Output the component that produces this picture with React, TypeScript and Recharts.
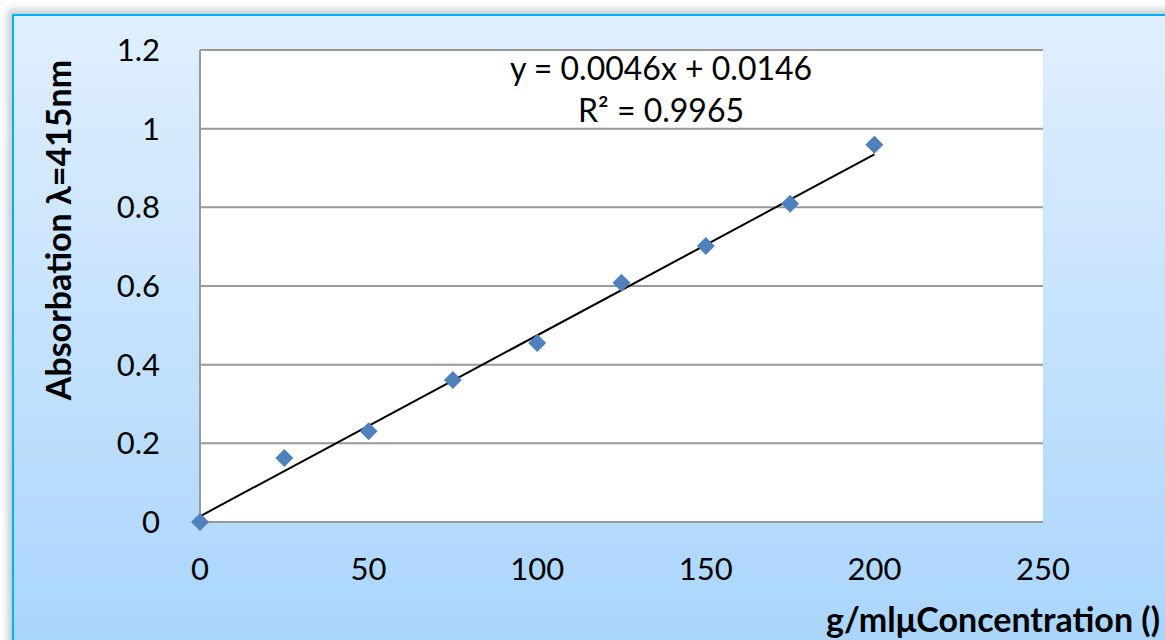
import { ScatterChart, Scatter, XAxis, YAxis, CartesianGrid, Label } from "recharts";

// concentration (g/ml) vs absorbance at 415nm
const concentration = [0, 25, 50, 75, 100, 125, 150, 175, 200];
const absorbance    = [0, 0.163, 0.231, 0.361, 0.455, 0.608, 0.702, 0.809, 0.959];

// trendline end points, from y = 0.0046x + 0.0146
const trendX = [0, 200];
const trendY = [0.0146, 0.9346];

const xTicks = [0, 50, 100, 150, 200, 250];
const yTicks = [0, 0.2, 0.4, 0.6, 0.8, 1, 1.2];

const xTitle = "g/mlμConcentration ()";
const yTitle = "Absorbation λ=415nm";
const equation = "y = 0.0046x + 0.0146";
const rSquared = "R² = 0.9965";

const points = concentration.map((x, i) => ({ x, y: absorbance[i] }));
const trend  = trendX.map((x, i) => ({ x, y: trendY[i] }));

const FONT = "Lato, 'Open Sans', sans-serif";
const tickStyle = { fontSize: 31, fill: "#000", fontFamily: FONT };
const titleStyle = { fontSize: 34, fontWeight: 700, fill: "#000", fontFamily: FONT };

function Diamond(props: any) {
  const { cx, cy } = props;
  const r = 9;
  return (
    <polygon
      points={`${cx},${cy - r} ${cx + r},${cy} ${cx},${cy + r} ${cx - r},${cy}`}
      fill="#4f81bd"
    />
  );
}

export default function App() {
  return (
    <div style={{ position: "absolute", left: 0, top: 0, width: 1165, height: 640, overflow: "hidden", background: "#fff" }}>
      {/* chart frame */}
      <div style={{
        position: "absolute", left: 12, top: 14, width: 1200, height: 680,
        border: "2px solid #00b0f0",
        background: "linear-gradient(#e0effd, #a5d3fc)",
        boxShadow: "-4px -4px 8px rgba(120,150,160,0.5)",
      }} />

      <div style={{ position: "absolute", left: 0, top: 0 }}>
        <ScatterChart width={1165} height={640} margin={{ top: 50, right: 122, bottom: 58, left: 100 }}>
          <CartesianGrid vertical={false} stroke="#999" strokeWidth={2} fill="#fff" />
          <XAxis
            type="number" dataKey="x" domain={[0, 250]} ticks={xTicks}
            height={60} axisLine={{ stroke: "#999", strokeWidth: 2 }} tickLine={false}
            tick={tickStyle} tickMargin={30}
          >
            <Label content={() => (
              <text x={1160} y={618} textAnchor="end" dominantBaseline="central" style={titleStyle}>{xTitle}</text>
            )} />
          </XAxis>
          <YAxis
            type="number" dataKey="y" domain={[0, 1.2]} ticks={yTicks}
            width={100} axisLine={{ stroke: "#999", strokeWidth: 2 }} tickLine={false}
            tick={tickStyle} tickMargin={34}
          >
            <Label content={() => (
              <text transform="translate(57,230) rotate(-90)" textAnchor="middle" dominantBaseline="central" style={titleStyle}>{yTitle}</text>
            )} />
          </YAxis>
          <Scatter data={trend} line={{ stroke: "#000", strokeWidth: 2 }} shape={() => null} isAnimationActive={false} />
          <Scatter data={points} shape={Diamond} isAnimationActive={false} />
        </ScatterChart>
      </div>

      {/* trendline label */}
      <div style={{
        position: "absolute", left: 461, top: 47, width: 400, textAlign: "center",
        fontFamily: FONT, fontSize: 32, lineHeight: "42px", color: "#000", whiteSpace: "nowrap",
      }}>
        <div>{equation}</div>
        <div>{rSquared}</div>
      </div>
    </div>
  );
}
